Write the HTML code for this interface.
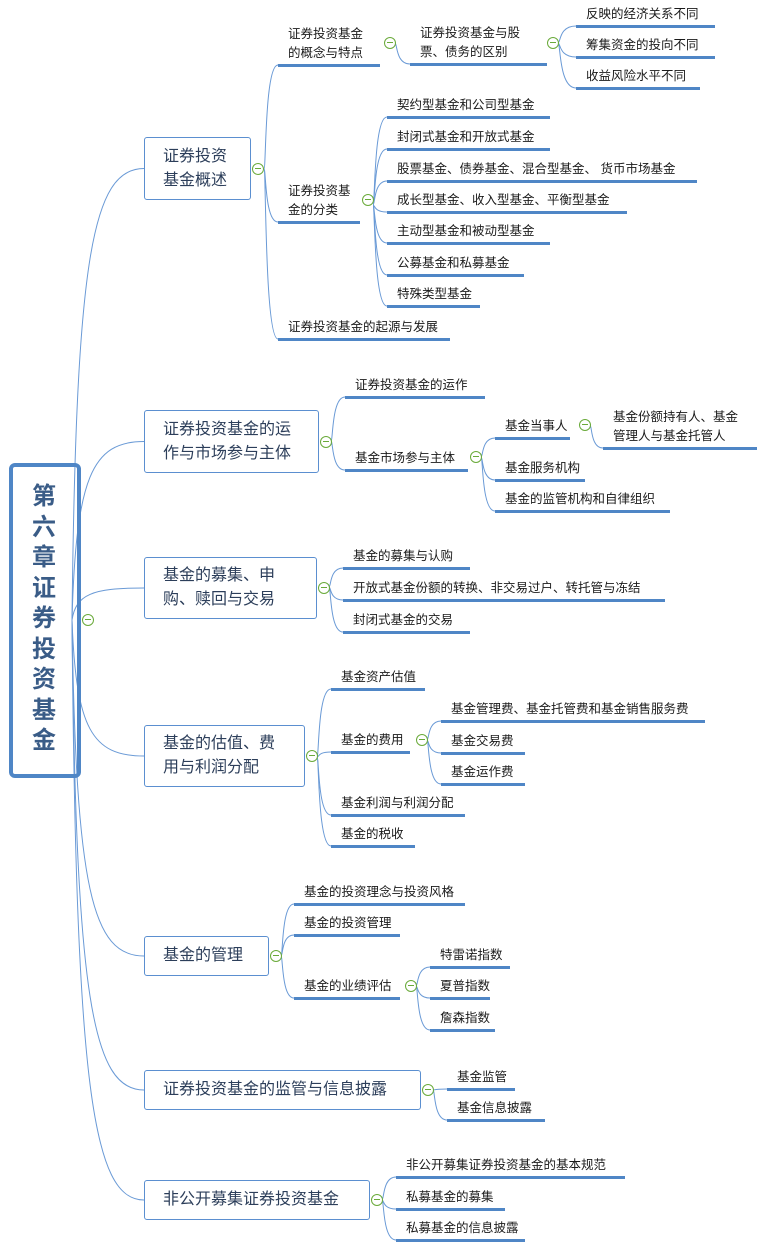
<!DOCTYPE html>
<html><head><meta charset="utf-8">
<style>
body{margin:0;background:#fff;width:763px;height:1252px;overflow:hidden;position:relative;font-family:"Liberation Sans","Noto Sans CJK SC",sans-serif;}
.root{position:absolute;left:9px;top:463px;width:64px;height:307px;border:4px solid #4f86c6;border-radius:6px;}
.rt{position:absolute;left:26px;top:482px;width:36px;font-size:24px;font-weight:bold;color:#3a5c87;line-height:30.5px;text-align:center;}
.b{position:absolute;border:1.5px solid #5b8fd0;border-radius:3px;box-sizing:border-box;font-size:16px;color:#2c3e5a;line-height:24px;display:flex;align-items:center;padding-left:18px;}
.t{position:absolute;font-size:12.5px;color:#1a1a1a;line-height:19px;white-space:nowrap;}
.u{position:absolute;height:3px;background:#4f86c6;}
.c{position:absolute;width:12px;height:12px;border:1.5px solid #6aaa3a;border-radius:50%;box-sizing:border-box;background:#fff;}
.c:after{content:"";position:absolute;left:2px;right:2px;top:4px;height:1.3px;background:#6aaa3a;}
svg{position:absolute;left:0;top:0;}
</style></head><body>
<svg id="s" width="763" height="1252"></svg>
<div class="root"></div>
<div class="rt">第<br>六<br>章<br>证<br>券<br>投<br>资<br>基<br>金</div>
<div id="m"></div>
<script>
var m=document.getElementById('m'),s=document.getElementById('s'),h='',p='';
function box(x1,y1,x2,y2,txt){h+='<div class="b" style="left:'+x1+'px;top:'+y1+'px;width:'+(x2-x1)+'px;height:'+(y2-y1)+'px">'+txt+'</div>';}
function circ(x,y){h+='<div class="c" style="left:'+(x-6)+'px;top:'+(y-6)+'px"></div>';}
function lab(x1,uy,x2,lines){var n=lines.length;h+='<div class="t" style="left:'+(x1+10)+'px;top:'+(uy-2-19*n)+'px">'+lines.join('<br>')+'</div>';h+='<div class="u" style="left:'+x1+'px;top:'+(uy-1)+'px;width:'+(x2-x1)+'px"></div>';}
function con(px,py,x1,y1){var dx=x1-px;p+='<path d="M'+px+' '+py+' C'+(px+dx*0.15)+' '+py+' '+(px+dx*0.05)+' '+y1+' '+x1+' '+y1+'"/>';}
function rcon(px,py,x1,y1){p+='<path d="M'+px+' '+py+' C'+(px+4)+' '+(py+(y1-py)*0.8)+' '+(px+20)+' '+y1+' '+x1+' '+y1+'"/>';}
circ(88,620);
var L1=[[137,200,251,'证券投资<br>基金概述',258],[410,473,319,'证券投资基金的运<br>作与市场参与主体',326],[557,619,317,'基金的募集、申<br>购、赎回与交易',324],[725,787,305,'基金的估值、费<br>用与利润分配',312],[936,976,269,'基金的管理',276],[1070,1110,421,'证券投资基金的监管与信息披露',428],[1180,1220,370,'非公开募集证券投资基金',377]];
L1.forEach(function(b){box(144,b[0],b[2],b[1],b[3]);circ(b[4],(b[0]+b[1])/2);rcon(72,620,144,(b[0]+b[1])/2);});
function grp(px,py,items){items.forEach(function(it){lab(it[0],it[1],it[2],it[3]);con(px,py,it[0],it[1]);});}
grp(264,169,[[278,65,380,['证券投资基金','的概念与特点']],[278,222,360,['证券投资基','金的分类']],[278,339,450,['证券投资基金的起源与发展']]]);
circ(390,43);grp(395,43,[[410,64,547,['证券投资基金与股','票、债务的区别']]]);
circ(553,43);grp(558,43,[[576,26,715,['反映的经济关系不同']],[576,57,715,['筹集资金的投向不同']],[576,88,700,['收益风险水平不同']]]);
circ(368,200);grp(373,205,[[387,117,550,['契约型基金和公司型基金']],[387,149,550,['封闭式基金和开放式基金']],[387,181,697,['股票基金、债券基金、混合型基金、 货币市场基金']],[387,212,627,['成长型基金、收入型基金、平衡型基金']],[387,243,550,['主动型基金和被动型基金']],[387,275,524,['公募基金和私募基金']],[387,306,480,['特殊类型基金']]]);
grp(331,441,[[345,397,485,['证券投资基金的运作']],[345,470,468,['基金市场参与主体']]]);
circ(476,457);grp(481,457,[[495,438,570,['基金当事人']],[495,480,585,['基金服务机构']],[495,511,670,['基金的监管机构和自律组织']]]);
circ(585,425);grp(590,425,[[603,448,757,['基金份额持有人、基金','管理人与基金托管人']]]);
grp(329,587,[[343,568,470,['基金的募集与认购']],[343,600,665,['开放式基金份额的转换、非交易过户、转托管与冻结']],[343,632,470,['封闭式基金的交易']]]);
grp(317,757,[[331,689,425,['基金资产估值']],[331,752,410,['基金的费用']],[331,815,465,['基金利润与利润分配']],[331,846,415,['基金的税收']]]);
circ(422,740);grp(427,740,[[441,721,705,['基金管理费、基金托管费和基金销售服务费']],[441,753,525,['基金交易费']],[441,784,525,['基金运作费']]]);
grp(281,956,[[294,904,465,['基金的投资理念与投资风格']],[294,935,400,['基金的投资管理']],[294,998,400,['基金的业绩评估']]]);
circ(411,986);grp(416,986,[[430,967,510,['特雷诺指数']],[430,998,490,['夏普指数']],[430,1030,495,['詹森指数']]]);
grp(433,1090,[[447,1089,515,['基金监管']],[447,1120,545,['基金信息披露']]]);
grp(382,1200,[[396,1177,625,['非公开募集证券投资基金的基本规范']],[396,1209,505,['私募基金的募集']],[396,1240,525,['私募基金的信息披露']]]);
m.innerHTML=h;
s.innerHTML='<g fill="none" stroke="#6a9ad6" stroke-width="1">'+p+'</g>';
</script>
</body></html>
